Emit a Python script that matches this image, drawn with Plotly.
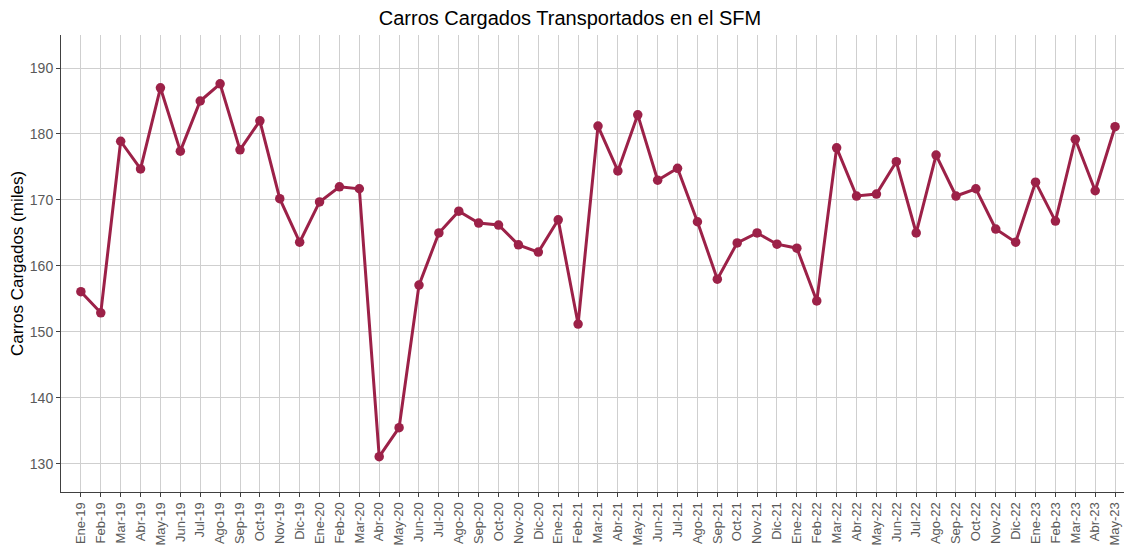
import plotly.graph_objects as go

months = ["Ene-19","Feb-19","Mar-19","Abr-19","May-19","Jun-19","Jul-19","Ago-19","Sep-19","Oct-19","Nov-19","Dic-19",
          "Ene-20","Feb-20","Mar-20","Abr-20","May-20","Jun-20","Jul-20","Ago-20","Sep-20","Oct-20","Nov-20","Dic-20",
          "Ene-21","Feb-21","Mar-21","Abr-21","May-21","Jun-21","Jul-21","Ago-21","Sep-21","Oct-21","Nov-21","Dic-21",
          "Ene-22","Feb-22","Mar-22","Abr-22","May-22","Jun-22","Jul-22","Ago-22","Sep-22","Oct-22","Nov-22","Dic-22",
          "Ene-23","Feb-23","Mar-23","Abr-23","May-23"]
carros = [156.1,152.9,178.9,174.7,187.0,177.4,185.0,187.6,177.6,182.0,170.2,163.6,
          169.7,172.0,171.7,131.1,135.5,157.1,165.0,168.3,166.5,166.2,163.2,162.1,
          167.0,151.2,181.2,174.4,182.9,173.0,174.8,166.7,158.0,163.5,165.0,163.3,
          162.7,154.7,177.9,170.6,170.9,175.8,165.0,176.8,170.6,171.7,165.6,163.6,
          172.7,166.8,179.2,171.4,181.1]
y_ticks = [130, 140, 150, 160, 170, 180, 190]

color = "#9c2148"
idx = list(range(len(months)))

fig = go.Figure()
fig.add_trace(go.Scatter(x=idx, y=carros, mode="lines+markers",
                         line=dict(color=color, width=3),
                         marker=dict(color=color, size=9.5),
                         showlegend=False, cliponaxis=False))

# page body has an 8px margin, so the figure is sized to fill the rest of the window
fig.update_layout(
    width=1124, height=540,
    margin=dict(l=53, r=2, t=27, b=56, autoexpand=False),
    paper_bgcolor="white", plot_bgcolor="white",
    font=dict(family="Liberation Sans, Arial, sans-serif"),
    title=dict(text="Carros Cargados Transportados en el SFM", x=0.5, xanchor="center",
               y=0.981, yanchor="middle", font=dict(size=20, color="black")),
    xaxis=dict(tickmode="array", tickvals=idx, ticktext=months, tickangle=-90,
               range=[-1, 52.75], showgrid=True, gridcolor="#cfcfcf", gridwidth=1,
               showline=True, linecolor="#404040", linewidth=1, automargin=False,
               ticks="outside", ticklen=4, tickcolor="#404040",
               tickfont=dict(size=13, color="#595959"), zeroline=False),
    yaxis=dict(tickvals=y_ticks, range=[125.75, 195], showgrid=True, gridcolor="#cfcfcf", gridwidth=1,
               showline=True, linecolor="#404040", linewidth=1, automargin=False,
               ticks="outside", ticklen=4, tickcolor="#404040",
               tickfont=dict(size=14, color="#595959"), zeroline=False,
               title=dict(text="Carros Cargados (miles)", font=dict(size=17, color="black"), standoff=8)),
)

fig.write_html("out.html")
